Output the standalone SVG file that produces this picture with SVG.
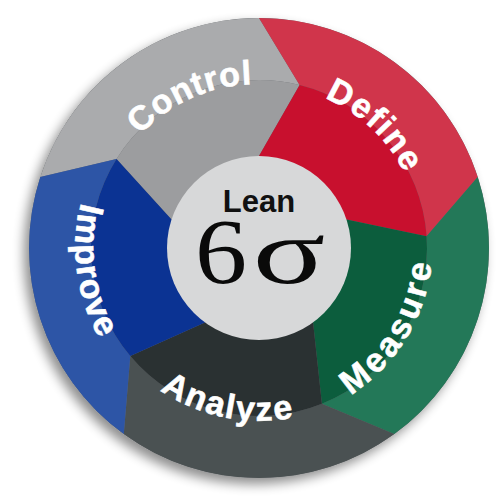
<svg xmlns="http://www.w3.org/2000/svg" width="504" height="504" viewBox="0 0 504 504">
  <defs>
    <filter id="shadow" x="-20%" y="-20%" width="140%" height="140%">
      <feGaussianBlur in="SourceAlpha" stdDeviation="6"/>
      <feOffset dx="-5" dy="6" result="b"/>
      <feComponentTransfer><feFuncA type="linear" slope="0.45"/></feComponentTransfer>
      <feMerge><feMergeNode/><feMergeNode in="SourceGraphic"/></feMerge>
    </filter>
    <path id="p-control" d="M105.0,287.5 A158,158 0 0 1 390.2,158.2"/>
    <path id="p-define" d="M164.2,120.4 A158,158 0 0 1 391.7,335.5"/>
    <path id="p-measure" d="M195.3,413.1 A178,178 0 0 0 375.4,114.6"/>
    <path id="p-analyze" d="M82.05,243.7 A178,178 0 0 0 423.8,312.6"/>
    <path id="p-improve" d="M203.0,75.0 A181,181 0 0 0 252.4,428.9"/>
  </defs>
  <style>
    .lbl { font-family: "Liberation Sans", Arial, sans-serif; font-weight: bold; font-size: 34px; fill: #ffffff; stroke: #ffffff; stroke-width: 0.6px; }
    .lean { font-family: "Liberation Sans", Arial, sans-serif; font-weight: bold; font-size: 31px; fill: #111111; }
    .sig { font-family: "Liberation Serif", "Times New Roman", serif; font-size: 93px; fill: #0a0a0a; }
  </style>
  <rect width="504" height="504" fill="#ffffff"/>
  <circle cx="259" cy="248" r="230" fill="#6a6d70" filter="url(#shadow)"/>

  <g id="seg-control">
    <path d="M40.3,176.9 A230,230 0 0 1 259,18 L299.6,85.0 A168,168 0 0 0 116.5,159.0 Z" fill="#aaabad"/>
    <path d="M116.5,159.0 A168,168 0 0 1 299.6,85.0 L259,156 L259,248 L171.5,219.6 Z" fill="#9c9d9f"/>
    <text class="lbl" letter-spacing="0.8"><textPath href="#p-control" startOffset="50%" text-anchor="middle">Control</textPath></text>
  </g>
  <g id="seg-define">
    <path d="M259,18 A230,230 0 0 1 477.7,176.9 L426.6,236.3 A168,168 0 0 0 299.6,85.0 Z" fill="#d0354b"/>
    <path d="M299.6,85.0 A168,168 0 0 1 426.6,236.3 L346.5,219.6 L259,248 L259,156 Z" fill="#c8102e"/>
    <text class="lbl" letter-spacing="1.6"><textPath href="#p-define" startOffset="50%" text-anchor="middle">Define</textPath></text>
  </g>
  <g id="seg-measure">
    <path d="M477.7,176.9 A230,230 0 0 1 394.2,434.1 L321.9,403.8 A168,168 0 0 0 426.6,236.3 Z" fill="#237858"/>
    <path d="M426.6,236.3 A168,168 0 0 1 321.9,403.8 L313.1,322.4 L259,248 L346.5,219.6 Z" fill="#0c5d3d"/>
    <text class="lbl" font-size="35" letter-spacing="3.6"><textPath href="#p-measure" startOffset="50%" text-anchor="middle">Measure</textPath></text>
  </g>
  <g id="seg-analyze">
    <path d="M394.2,434.1 A230,230 0 0 1 123.8,434.1 L130.3,356.0 A168,168 0 0 0 321.9,403.8 Z" fill="#4a5152"/>
    <path d="M321.9,403.8 A168,168 0 0 1 130.3,356.0 L204.9,322.4 L259,248 L313.1,322.4 Z" fill="#2a3132"/>
    <text class="lbl" letter-spacing="1.9"><textPath href="#p-analyze" startOffset="50%" text-anchor="middle">Analyze</textPath></text>
  </g>
  <g id="seg-improve">
    <path d="M123.8,434.1 A230,230 0 0 1 40.3,176.9 L116.5,159.0 A168,168 0 0 0 130.3,356.0 Z" fill="#2d55a6"/>
    <path d="M130.3,356.0 A168,168 0 0 1 116.5,159.0 L171.5,219.6 L259,248 L204.9,322.4 Z" fill="#0b3393"/>
    <text class="lbl" letter-spacing="1.4"><textPath href="#p-improve" startOffset="50%" text-anchor="middle">Improve</textPath></text>
  </g>

  <g id="center">
    <circle cx="259" cy="248" r="92" fill="#d7d8d9"/>
    <text class="lean" x="259" y="212" text-anchor="middle">Lean</text>
    <text class="sig" transform="translate(221,283) scale(1.12,1)" text-anchor="middle">6</text>
    <text class="sig" transform="translate(289,283) scale(1.45,1)" text-anchor="middle">σ</text>
  </g>
</svg>
